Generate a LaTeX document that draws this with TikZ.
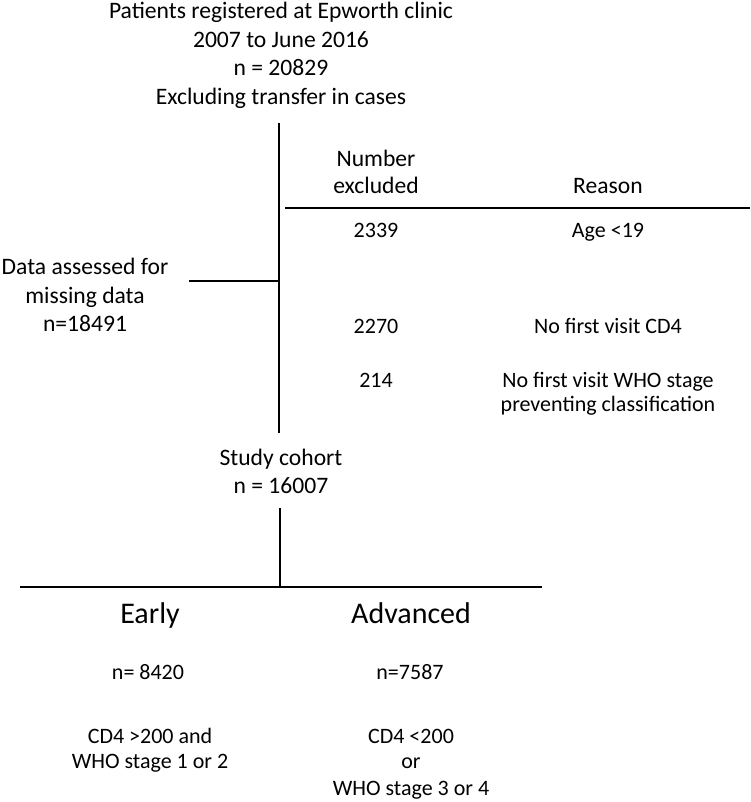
\documentclass[tikz,border=0pt]{standalone}
\usepackage{fontspec}
\setmainfont{Carlito}
\begin{document}
\begin{tikzpicture}[x=1pt,y=-1pt,
  txt/.style={anchor=base, inner sep=0pt, font=\fontsize{22}{26}\selectfont},
  ttl/.style={anchor=base, inner sep=0pt, font=\fontsize{23.6}{28}\selectfont},
  big/.style={anchor=base, inner sep=0pt, font=\fontsize{30}{36}\selectfont},
  ln/.style={line width=1.8pt, black}]
\useasboundingbox (0,0) rectangle (750,802);
% title
\node[ttl] (t1) at (281,19) {Patients registered at Epworth clinic};
\node[ttl] (t2) at (281,48) {2007 to June 2016};
\node[ttl] (t3) at (281,76) {n = 20829};
\node[ttl] (t4) at (281,105) {Excluding transfer in cases};
% table header
\node[ttl] (num1) at (376,167) {Number};
\node[ttl] (num2) at (376,194) {excluded};
\node[ttl] (reas) at (608,194) {Reason};
% rows
\node[txt] (r1n) at (376,237) {2339};
\node[txt] (r1r) at (608,237) {Age <19};
\node[txt] (r2n) at (376,333) {2270};
\node[txt] (r2r) at (608,333) {No first visit CD4};
\node[txt] (r3n) at (376,387) {214};
\node[txt] (r3r) at (608,387) {No first visit WHO stage};
\node[txt] (r3r2) at (608,411) {preventing classification};
% left block
\node[ttl] (d1) at (85,274) {Data assessed for};
\node[ttl] (d2) at (85,303) {missing data};
\node[ttl] (d3) at (85,331) {n=18491};
% study cohort
\node[ttl] (s1) at (281,465) {Study cohort};
\node[ttl] (s2) at (281,493) {n = 16007};
% groups
\node[big] (early) at (150,623) {Early};
\node[big] (adv) at (411,623) {Advanced};
\node[txt] (en) at (148,679) {n= 8420};
\node[txt] (an) at (410,679) {n=7587};
\node[txt] (ec1) at (150,743) {CD4 >200 and};
\node[txt] (ec2) at (150,768) {WHO stage 1 or 2};
\node[txt] (ac1) at (411,743) {CD4 <200};
\node[txt] (ac2) at (411,768) {or};
\node[txt] (ac3) at (411,795) {WHO stage 3 or 4};
% coordinates
\coordinate (v1top) at (279,123);
\coordinate (v1bot) at (279,433);
\coordinate (hA) at (285,208);
\coordinate (hB) at (750,208);
\coordinate (hL) at (189,281);
\coordinate (hR) at (279,281);
\coordinate (v2top) at (280,508);
\coordinate (v2bot) at (280,587);
\coordinate (bL) at (20,587);
\coordinate (bR) at (542,587);
% lines
\draw[ln] (v1top) -- (v1bot);
\draw[ln] (hA) -- (hB);
\draw[ln] (hL) -- (hR);
\draw[ln] (v2top) -- (v2bot);
\draw[ln] (bL) -- (bR);
\end{tikzpicture}
\end{document}
